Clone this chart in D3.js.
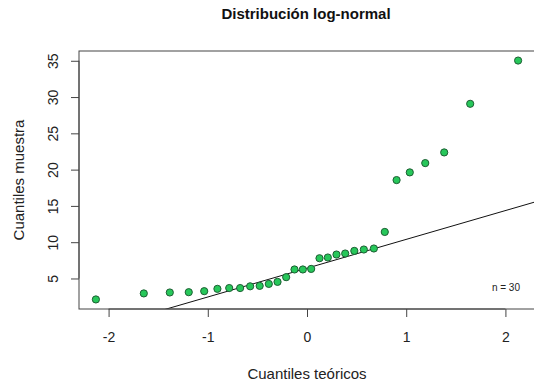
<!DOCTYPE html>
<html>
<head>
<meta charset="utf-8">
<script src="https://cdn.jsdelivr.net/npm/d3@7"></script>
<style>
  html, body { margin: 0; padding: 0; background: #fff; }
  svg { display: block; font-family: "Liberation Sans", Arial, Helvetica, sans-serif; }
</style>
</head>
<body>
<svg id="chart" width="534" height="384"></svg>
<script>
// Theoretical normal quantiles (x) and sorted sample values (y), n = 30
const theoretical = [-2.128, -1.645, -1.383, -1.192, -1.036, -0.903, -0.784, -0.674, -0.573, -0.477,
                     -0.385, -0.297, -0.210, -0.126, -0.042, 0.042, 0.126, 0.210, 0.297, 0.385,
                     0.477, 0.573, 0.674, 0.784, 0.903, 1.036, 1.192, 1.383, 1.645, 2.128];
const sample = [2.11, 2.94, 3.07, 3.11, 3.25, 3.57, 3.68, 3.68, 3.92, 3.98,
                4.25, 4.53, 5.18, 6.24, 6.24, 6.32, 7.79, 7.89, 8.30, 8.44,
                8.80, 8.99, 9.13, 11.41, 18.56, 19.62, 20.90, 22.37, 29.07, 35.03];
const xTicks = [-2, -1, 0, 1, 2];
const yTicks = [5, 10, 15, 20, 25, 30, 35];
const title = "Distribución log-normal";
const xLabel = "Cuantiles teóricos";
const yLabel = "Cuantiles muestra";
const nLabel = "n = " + sample.length;

const svg = d3.select("#chart");
const mLeft = 79, mRight = 535, mTop = 51, mBottom = 309;

function ext(arr) {
  const [a, b] = d3.extent(arr);
  const d = (b - a) * 0.04;
  return [a - d, b + d];
}
const x = d3.scaleLinear().domain(ext(theoretical)).range([mLeft, mRight]);
const y = d3.scaleLinear().domain(ext(sample)).range([mBottom, mTop]);

// qqline: through the first and third quartiles
const q1 = d3.quantile(sample, 0.25), q3 = d3.quantile(sample, 0.75);
const z1 = -0.6744898, z3 = 0.6744898;
const slope = (q3 - q1) / (z3 - z1);
const intercept = q1 - slope * z1;

svg.append("defs").append("clipPath").attr("id", "clip")
  .append("rect").attr("x", mLeft).attr("y", mTop).attr("width", mRight - mLeft).attr("height", mBottom - mTop);

// qq line
const [xd0, xd1] = x.domain();
svg.append("line")
  .attr("clip-path", "url(#clip)")
  .attr("x1", x(xd0)).attr("y1", y(intercept + slope * xd0))
  .attr("x2", x(xd1)).attr("y2", y(intercept + slope * xd1))
  .attr("stroke", "#111").attr("stroke-width", 1);

// points
svg.append("g").selectAll("circle")
  .data(theoretical.map((t, i) => [t, sample[i]]))
  .join("circle")
  .attr("cx", d => x(d[0])).attr("cy", d => y(d[1]))
  .attr("r", 3.6)
  .attr("fill", "#27c75a").attr("stroke", "#1d5e33").attr("stroke-width", 1);

// box
svg.append("rect")
  .attr("x", mLeft).attr("y", mTop).attr("width", mRight - mLeft + 5).attr("height", mBottom - mTop)
  .attr("fill", "none").attr("stroke", "#444").attr("stroke-width", 1);

// x axis
const xAxis = d3.axisBottom(x).tickValues(xTicks).tickSize(8).tickPadding(15)
  .tickFormat(d => d < 0 ? "-" + Math.abs(d) : String(d));
const gx = svg.append("g").attr("transform", `translate(0,${mBottom})`).call(xAxis);
gx.select(".domain").attr("d", `M${x(xTicks[0])},0H${x(xTicks[xTicks.length - 1])}`).attr("stroke", "#444");
gx.selectAll(".tick line").attr("stroke", "#444");
gx.selectAll("text").attr("font-size", 14).attr("fill", "#222")
  .attr("font-family", "'Liberation Sans', Arial, sans-serif");

// y axis
const yAxis = d3.axisLeft(y).tickValues(yTicks).tickSize(8).tickPadding(0);
const gy = svg.append("g").attr("transform", `translate(${mLeft},0)`).call(yAxis);
gy.select(".domain").attr("d", `M0,${y(yTicks[0])}V${y(yTicks[yTicks.length - 1])}`).attr("stroke", "#444");
gy.selectAll(".tick line").attr("stroke", "#444");
gy.selectAll(".tick text")
  .attr("x", null).attr("dy", null)
  .attr("text-anchor", "middle")
  .attr("transform", "translate(-21,0) rotate(-90)")
  .attr("y", 0)
  .attr("font-size", 14).attr("fill", "#222")
  .attr("font-family", "'Liberation Sans', Arial, sans-serif");

// title
svg.append("text")
  .attr("x", (mLeft + mRight) / 2 - 1).attr("y", 18.5)
  .attr("text-anchor", "middle").attr("font-weight", "bold").attr("font-size", 15)
  .attr("fill", "#111").text(title);

// x label
svg.append("text")
  .attr("x", (mLeft + mRight) / 2).attr("y", 379)
  .attr("text-anchor", "middle").attr("font-size", 15).attr("fill", "#222").text(xLabel);

// y label
svg.append("text")
  .attr("transform", `translate(24,${(mTop + mBottom) / 2}) rotate(-90)`)
  .attr("text-anchor", "middle").attr("font-size", 15).attr("fill", "#222").text(yLabel);

// n label
svg.append("text")
  .attr("x", 520).attr("y", 291)
  .attr("text-anchor", "end").attr("font-size", 10).attr("fill", "#222").text(nLabel);
</script>
</body>
</html>
